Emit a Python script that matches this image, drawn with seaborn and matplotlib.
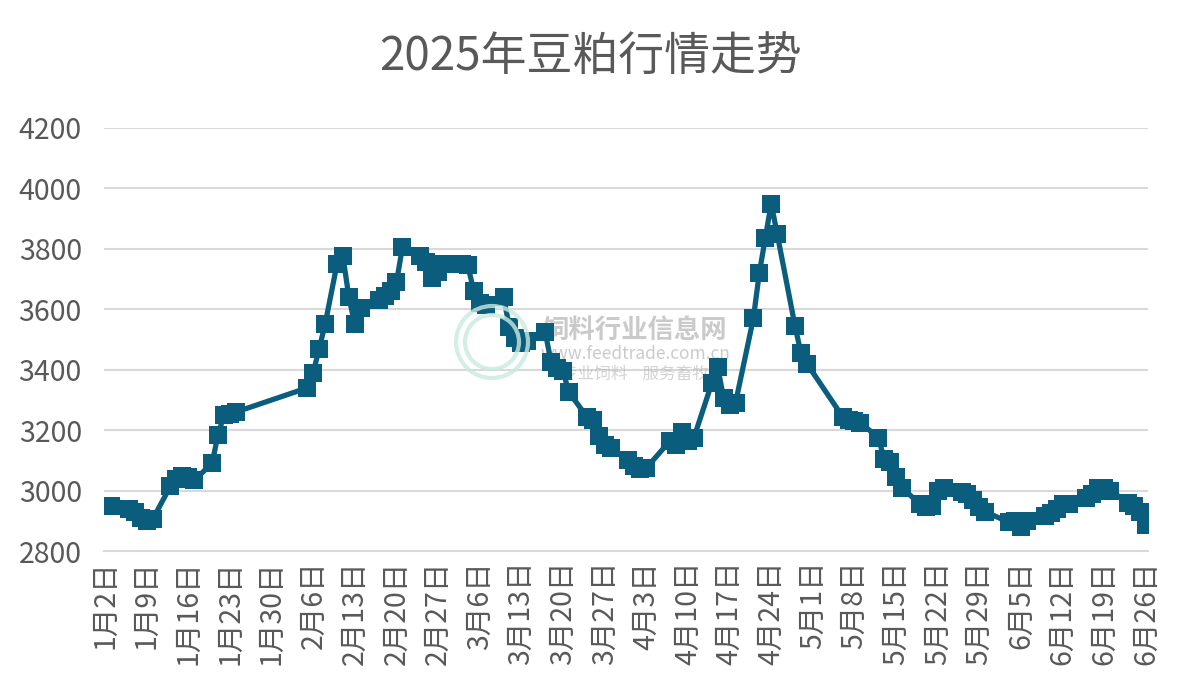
import matplotlib
matplotlib.use("Agg")
import matplotlib.pyplot as plt
from matplotlib.patches import Circle
import seaborn as sns
import pandas as pd
import numpy as np

# ---- data ----
dates = [
    "01-02", "01-03", "01-06", "01-07", "01-08", "01-09", "01-10",
    "01-13", "01-14", "01-15", "01-16", "01-17",
    "01-20", "01-21", "01-22", "01-23", "01-24",
    "02-05", "02-06", "02-07", "02-08",
    "02-10", "02-11", "02-12", "02-13", "02-14",
    "02-17", "02-18", "02-19", "02-20", "02-21",
    "02-24", "02-25", "02-26", "02-27", "02-28",
    "03-03", "03-04", "03-05", "03-06", "03-07",
    "03-10", "03-11", "03-12", "03-13", "03-14",
    "03-17", "03-18", "03-19", "03-20", "03-21",
    "03-24", "03-25", "03-26", "03-27", "03-28",
    "03-31", "04-01", "04-02", "04-03",
    "04-07", "04-08", "04-09", "04-10", "04-11",
    "04-14", "04-15", "04-16", "04-17", "04-18",
    "04-21", "04-22", "04-23", "04-24", "04-25",
    "04-28", "04-29", "04-30",
    "05-06", "05-07", "05-08", "05-09",
    "05-12", "05-13", "05-14", "05-15", "05-16",
    "05-19", "05-20", "05-21", "05-22", "05-23",
    "05-26", "05-27", "05-28", "05-29", "05-30",
    "06-03", "06-04", "06-05", "06-06",
    "06-09", "06-10", "06-11", "06-12", "06-13",
    "06-16", "06-17", "06-18", "06-19", "06-20",
    "06-23", "06-24", "06-25", "06-26",
]
prices = [
    2950, 2950, 2940, 2930, 2910, 2900, 2905,
    3015, 3040, 3050, 3045, 3035,
    3090, 3185, 3250, 3255, 3260,
    3340, 3390, 3470, 3550,
    3750, 3775, 3640, 3550, 3605,
    3630, 3645, 3660, 3690, 3805,
    3775, 3755, 3705, 3725, 3750,
    3750, 3745, 3660, 3620, 3615,
    3640, 3540, 3505, 3490, 3495,
    3525, 3425, 3405, 3395, 3325,
    3245, 3235, 3180, 3150, 3140,
    3100, 3080, 3070, 3075,
    3165, 3150, 3195, 3165, 3175,
    3355, 3410, 3305, 3285, 3290,
    3570, 3720, 3835, 3950, 3850,
    3545, 3455, 3420,
    3245, 3235, 3230, 3225,
    3175, 3105, 3095, 3045, 3010,
    2955, 2945, 2950, 3000, 3010,
    2995, 2990, 2970, 2945, 2930,
    2895, 2900, 2880, 2900,
    2915, 2925, 2940, 2955, 2955,
    2975, 2990, 3010, 3010, 3000,
    2960, 2950, 2930, 2885,
]
title = "2025年豆粕行情走势"
y_ticks = [2800, 3000, 3200, 3400, 3600, 3800, 4000, 4200]
tick_dates = pd.date_range("2025-01-02", "2025-06-26", freq="7D")
wm_name = "饲料行业信息网"
wm_url = "www.feedtrade.com.cn"
wm_slogan = "专业饲料    服务畜牧"

# ---- build frame ----
start = pd.Timestamp("2025-01-02")
dt = pd.to_datetime(["2025-" + d for d in dates])
df = pd.DataFrame({"day": (dt - start).days, "price": prices})
tick_pos = (tick_dates - start).days
tick_labels = [f"{d.month}月{d.day}日" for d in tick_dates]

sns.set_style("white")
plt.rcParams["font.family"] = ["Noto Sans CJK SC", "DejaVu Sans"]

fig = plt.figure(figsize=(11.82, 6.88), dpi=100)
ax = fig.add_axes([0.088, 0.199, 0.883, 0.615])

color = "#0b5d7e"
sns.lineplot(data=df, x="day", y="price", ax=ax, color=color, linewidth=3.8,
             marker="s", markersize=12.5, markeredgewidth=0, markerfacecolor=color,
             zorder=3)

ax.set_xlim(-0.17, 175.3)
ax.set_ylim(2800, 4200)
ax.set_yticks(y_ticks)
ax.set_yticklabels([str(v) for v in y_ticks], fontsize=20.5, color="#595959")
ax.set_xticks(tick_pos)
ax.set_xticklabels(tick_labels, rotation=90, fontsize=20.5, color="#595959")
ax.set_xlabel("")
ax.set_ylabel("")

ax.grid(axis="y", color="#d9d9d9", linewidth=1.5, zorder=0)
ax.grid(axis="x", visible=False)
for s in ["left", "right", "top"]:
    ax.spines[s].set_visible(False)
ax.spines["bottom"].set_color("#d9d9d9")
ax.spines["bottom"].set_linewidth(1.5)
ax.spines["bottom"].set_zorder(1)
ax.tick_params(axis="x", direction="out", length=4, width=1.2, color="#d9d9d9", pad=3)
ax.tick_params(axis="y", length=0, pad=16)

fig.text(0.5, 0.918, title, ha="center", va="center", fontsize=33, color="#595959")

# watermark (faint logo rings + text)
for r, lw in [(36, 3), (27, 3)]:
    fig.patches.append(Circle((492, 688 - 342), r, transform=None, fill=False,
                              edgecolor="#c9eadf", linewidth=lw, alpha=0.8, zorder=1))
ax.text(0.509, 0.522, wm_name, transform=ax.transAxes, fontsize=19,
        color="#a8a8a8", alpha=0.6, ha="center", va="center", zorder=2, fontweight="bold")
ax.text(0.509, 0.466, wm_url, transform=ax.transAxes, fontsize=12.5,
        color="#a8a8a8", alpha=0.6, ha="center", va="center", zorder=2)
ax.text(0.509, 0.418, wm_slogan, transform=ax.transAxes, fontsize=12,
        color="#a8a8a8", alpha=0.5, ha="center", va="center", zorder=2, style="italic")

fig.savefig("out.png", dpi=100)
